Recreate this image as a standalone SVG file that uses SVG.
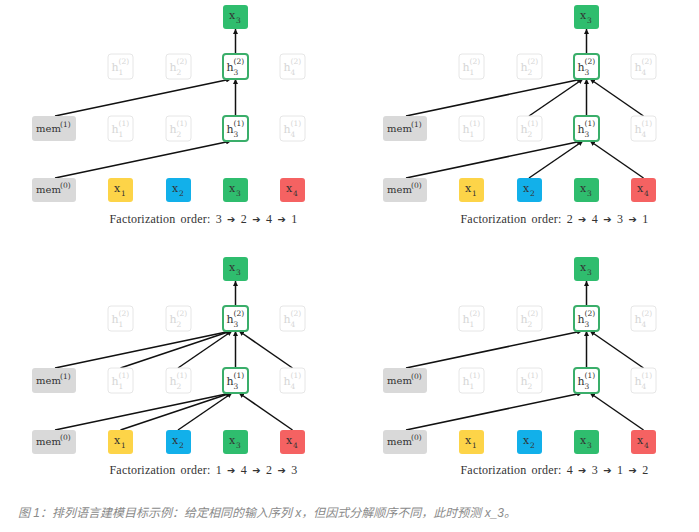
<svg xmlns="http://www.w3.org/2000/svg" width="699" height="532" viewBox="0 0 699 532">
<defs>
<marker id="ah" viewBox="0 0 6 6" refX="6" refY="3" markerWidth="5" markerHeight="5" markerUnits="userSpaceOnUse" orient="auto"><path d="M0,0 L6,3 L0,6 z" fill="#111"/></marker>
<style>
.lbl{font-family:"DejaVu Serif","Liberation Serif",serif;font-size:11px;fill:#333}
.m{font-size:10px}
.sc{font-size:7.5px}
.ft{fill:#d6d6d6}
.faded{fill:#fff;stroke:#e6e6e6;stroke-width:1}
.act{fill:#fff;stroke:#3aae6a;stroke-width:2}
.mem{fill:#d9d9d9}
.y{fill:#fdd448}.b{fill:#12b0ea}.g{fill:#2fbd6e}.r{fill:#f56262}
.cap{font-family:"Liberation Serif","Times New Roman",serif;font-size:12px;fill:#333;word-spacing:2px;letter-spacing:0.2px}
.ar{font-family:"DejaVu Sans",sans-serif;font-size:10px}
.e{stroke:#111;stroke-width:1.5;fill:none;marker-end:url(#ah)}
.fig{font-family:"Liberation Sans","Noto Sans CJK SC",sans-serif;font-size:12px;font-style:italic;fill:#8a8a8a}
</style>
</defs>
<rect width="699" height="532" fill="#fff"/>

<!-- Panel A -->
<g id="panelA">
<g id="a-edges">
<line class="e" x1="55" y1="116" x2="231" y2="79"/>
<line class="e" x1="235.5" y1="116" x2="235.5" y2="79"/>
<line class="e" x1="235.5" y1="54" x2="235.5" y2="29"/>
<line class="e" x1="55" y1="178" x2="231" y2="141"/>
</g>
<g id="a-out"><rect class="g" x="223" y="5" width="25" height="24" rx="3"/><text class="lbl" x="229" y="19">x<tspan class="sc" x="236" y="23">3</tspan></text></g>
<g id="a-h2-1"><rect class="faded" x="108" y="54" width="25" height="25" rx="3"/><text class="lbl ft" x="111.5" y="71">h<tspan class="sc" x="118.5" y="64">(2)</tspan><tspan class="sc" x="118.5" y="75">1</tspan></text></g>
<g id="a-h2-2"><rect class="faded" x="166" y="54" width="25" height="25" rx="3"/><text class="lbl ft" x="169.5" y="71">h<tspan class="sc" x="176.5" y="64">(2)</tspan><tspan class="sc" x="176.5" y="75">2</tspan></text></g>
<g id="a-h2-3"><rect class="act" x="223" y="54" width="25" height="25" rx="3"/><text class="lbl" x="226.5" y="71">h<tspan class="sc" x="233.5" y="64">(2)</tspan><tspan class="sc" x="233.5" y="75">3</tspan></text></g>
<g id="a-h2-4"><rect class="faded" x="280" y="54" width="25" height="25" rx="3"/><text class="lbl ft" x="283.5" y="71">h<tspan class="sc" x="290.5" y="64">(2)</tspan><tspan class="sc" x="290.5" y="75">4</tspan></text></g>
<g id="a-mem1"><rect class="mem" x="32" y="116" width="44" height="25" rx="3"/><text class="lbl m" x="36" y="132">mem<tspan class="sc" x="60" y="127">(1)</tspan></text></g>
<g id="a-h1-1"><rect class="faded" x="108" y="116" width="25" height="25" rx="3"/><text class="lbl ft" x="111.5" y="133">h<tspan class="sc" x="118.5" y="126">(1)</tspan><tspan class="sc" x="118.5" y="137">1</tspan></text></g>
<g id="a-h1-2"><rect class="faded" x="166" y="116" width="25" height="25" rx="3"/><text class="lbl ft" x="169.5" y="133">h<tspan class="sc" x="176.5" y="126">(1)</tspan><tspan class="sc" x="176.5" y="137">2</tspan></text></g>
<g id="a-h1-3"><rect class="act" x="223" y="116" width="25" height="25" rx="3"/><text class="lbl" x="226.5" y="133">h<tspan class="sc" x="233.5" y="126">(1)</tspan><tspan class="sc" x="233.5" y="137">3</tspan></text></g>
<g id="a-h1-4"><rect class="faded" x="280" y="116" width="25" height="25" rx="3"/><text class="lbl ft" x="283.5" y="133">h<tspan class="sc" x="290.5" y="126">(1)</tspan><tspan class="sc" x="290.5" y="137">4</tspan></text></g>
<g id="a-mem0"><rect class="mem" x="32" y="178" width="44" height="24" rx="3"/><text class="lbl m" x="36" y="193">mem<tspan class="sc" x="60" y="188">(0)</tspan></text></g>
<g id="a-x1"><rect class="y" x="108" y="178" width="25" height="24" rx="3"/><text class="lbl" x="114" y="192">x<tspan class="sc" x="121" y="196">1</tspan></text></g>
<g id="a-x2"><rect class="b" x="166" y="178" width="25" height="24" rx="3"/><text class="lbl" x="172" y="192">x<tspan class="sc" x="179" y="196">2</tspan></text></g>
<g id="a-x3"><rect class="g" x="223" y="178" width="25" height="24" rx="3"/><text class="lbl" x="229" y="192">x<tspan class="sc" x="236" y="196">3</tspan></text></g>
<g id="a-x4"><rect class="r" x="280" y="178" width="25" height="24" rx="3"/><text class="lbl" x="286" y="192">x<tspan class="sc" x="293" y="196">4</tspan></text></g>
<text class="cap" x="203.5" y="223" text-anchor="middle">Factorization order: 3 <tspan class="ar">➔</tspan> 2 <tspan class="ar">➔</tspan> 4 <tspan class="ar">➔</tspan> 1</text>
</g>

<!-- Panel B -->
<g id="panelB" transform="translate(351,0)">
<g id="b-edges">
<line class="e" x1="55" y1="116" x2="231" y2="79"/>
<line class="e" x1="178" y1="116" x2="232" y2="79"/>
<line class="e" x1="235.5" y1="116" x2="235.5" y2="79"/>
<line class="e" x1="292.5" y1="116" x2="239" y2="79"/>
<line class="e" x1="235.5" y1="54" x2="235.5" y2="29"/>
<line class="e" x1="55" y1="178" x2="231" y2="141"/>
<line class="e" x1="178" y1="178" x2="232" y2="141"/>
<line class="e" x1="292.5" y1="178" x2="239" y2="141"/>
</g>
<g id="b-out"><rect class="g" x="223" y="5" width="25" height="24" rx="3"/><text class="lbl" x="229" y="19">x<tspan class="sc" x="236" y="23">3</tspan></text></g>
<g id="b-h2-1"><rect class="faded" x="108" y="54" width="25" height="25" rx="3"/><text class="lbl ft" x="111.5" y="71">h<tspan class="sc" x="118.5" y="64">(2)</tspan><tspan class="sc" x="118.5" y="75">1</tspan></text></g>
<g id="b-h2-2"><rect class="faded" x="166" y="54" width="25" height="25" rx="3"/><text class="lbl ft" x="169.5" y="71">h<tspan class="sc" x="176.5" y="64">(2)</tspan><tspan class="sc" x="176.5" y="75">2</tspan></text></g>
<g id="b-h2-3"><rect class="act" x="223" y="54" width="25" height="25" rx="3"/><text class="lbl" x="226.5" y="71">h<tspan class="sc" x="233.5" y="64">(2)</tspan><tspan class="sc" x="233.5" y="75">3</tspan></text></g>
<g id="b-h2-4"><rect class="faded" x="280" y="54" width="25" height="25" rx="3"/><text class="lbl ft" x="283.5" y="71">h<tspan class="sc" x="290.5" y="64">(2)</tspan><tspan class="sc" x="290.5" y="75">4</tspan></text></g>
<g id="b-mem1"><rect class="mem" x="32" y="116" width="44" height="25" rx="3"/><text class="lbl m" x="36" y="132">mem<tspan class="sc" x="60" y="127">(1)</tspan></text></g>
<g id="b-h1-1"><rect class="faded" x="108" y="116" width="25" height="25" rx="3"/><text class="lbl ft" x="111.5" y="133">h<tspan class="sc" x="118.5" y="126">(1)</tspan><tspan class="sc" x="118.5" y="137">1</tspan></text></g>
<g id="b-h1-2"><rect class="faded" x="166" y="116" width="25" height="25" rx="3"/><text class="lbl ft" x="169.5" y="133">h<tspan class="sc" x="176.5" y="126">(1)</tspan><tspan class="sc" x="176.5" y="137">2</tspan></text></g>
<g id="b-h1-3"><rect class="act" x="223" y="116" width="25" height="25" rx="3"/><text class="lbl" x="226.5" y="133">h<tspan class="sc" x="233.5" y="126">(1)</tspan><tspan class="sc" x="233.5" y="137">3</tspan></text></g>
<g id="b-h1-4"><rect class="faded" x="280" y="116" width="25" height="25" rx="3"/><text class="lbl ft" x="283.5" y="133">h<tspan class="sc" x="290.5" y="126">(1)</tspan><tspan class="sc" x="290.5" y="137">4</tspan></text></g>
<g id="b-mem0"><rect class="mem" x="32" y="178" width="44" height="24" rx="3"/><text class="lbl m" x="36" y="193">mem<tspan class="sc" x="60" y="188">(0)</tspan></text></g>
<g id="b-x1"><rect class="y" x="108" y="178" width="25" height="24" rx="3"/><text class="lbl" x="114" y="192">x<tspan class="sc" x="121" y="196">1</tspan></text></g>
<g id="b-x2"><rect class="b" x="166" y="178" width="25" height="24" rx="3"/><text class="lbl" x="172" y="192">x<tspan class="sc" x="179" y="196">2</tspan></text></g>
<g id="b-x3"><rect class="g" x="223" y="178" width="25" height="24" rx="3"/><text class="lbl" x="229" y="192">x<tspan class="sc" x="236" y="196">3</tspan></text></g>
<g id="b-x4"><rect class="r" x="280" y="178" width="25" height="24" rx="3"/><text class="lbl" x="286" y="192">x<tspan class="sc" x="293" y="196">4</tspan></text></g>
<text class="cap" x="203.5" y="223" text-anchor="middle">Factorization order: 2 <tspan class="ar">➔</tspan> 4 <tspan class="ar">➔</tspan> 3 <tspan class="ar">➔</tspan> 1</text>
</g>

<!-- Panel C -->
<g id="panelC" transform="translate(0,252)">
<g id="c-edges">
<line class="e" x1="55" y1="116" x2="231" y2="79"/>
<line class="e" x1="120.5" y1="116" x2="231" y2="79"/>
<line class="e" x1="178" y1="116" x2="232" y2="79"/>
<line class="e" x1="235.5" y1="116" x2="235.5" y2="79"/>
<line class="e" x1="292.5" y1="116" x2="239" y2="79"/>
<line class="e" x1="235.5" y1="54" x2="235.5" y2="29"/>
<line class="e" x1="55" y1="178" x2="231" y2="141"/>
<line class="e" x1="120.5" y1="178" x2="231" y2="141"/>
<line class="e" x1="178" y1="178" x2="232" y2="141"/>
<line class="e" x1="292.5" y1="178" x2="239" y2="141"/>
</g>
<g id="c-out"><rect class="g" x="223" y="5" width="25" height="24" rx="3"/><text class="lbl" x="229" y="19">x<tspan class="sc" x="236" y="23">3</tspan></text></g>
<g id="c-h2-1"><rect class="faded" x="108" y="54" width="25" height="25" rx="3"/><text class="lbl ft" x="111.5" y="71">h<tspan class="sc" x="118.5" y="64">(2)</tspan><tspan class="sc" x="118.5" y="75">1</tspan></text></g>
<g id="c-h2-2"><rect class="faded" x="166" y="54" width="25" height="25" rx="3"/><text class="lbl ft" x="169.5" y="71">h<tspan class="sc" x="176.5" y="64">(2)</tspan><tspan class="sc" x="176.5" y="75">2</tspan></text></g>
<g id="c-h2-3"><rect class="act" x="223" y="54" width="25" height="25" rx="3"/><text class="lbl" x="226.5" y="71">h<tspan class="sc" x="233.5" y="64">(2)</tspan><tspan class="sc" x="233.5" y="75">3</tspan></text></g>
<g id="c-h2-4"><rect class="faded" x="280" y="54" width="25" height="25" rx="3"/><text class="lbl ft" x="283.5" y="71">h<tspan class="sc" x="290.5" y="64">(2)</tspan><tspan class="sc" x="290.5" y="75">4</tspan></text></g>
<g id="c-mem1"><rect class="mem" x="32" y="116" width="44" height="25" rx="3"/><text class="lbl m" x="36" y="132">mem<tspan class="sc" x="60" y="127">(1)</tspan></text></g>
<g id="c-h1-1"><rect class="faded" x="108" y="116" width="25" height="25" rx="3"/><text class="lbl ft" x="111.5" y="133">h<tspan class="sc" x="118.5" y="126">(1)</tspan><tspan class="sc" x="118.5" y="137">1</tspan></text></g>
<g id="c-h1-2"><rect class="faded" x="166" y="116" width="25" height="25" rx="3"/><text class="lbl ft" x="169.5" y="133">h<tspan class="sc" x="176.5" y="126">(1)</tspan><tspan class="sc" x="176.5" y="137">2</tspan></text></g>
<g id="c-h1-3"><rect class="act" x="223" y="116" width="25" height="25" rx="3"/><text class="lbl" x="226.5" y="133">h<tspan class="sc" x="233.5" y="126">(1)</tspan><tspan class="sc" x="233.5" y="137">3</tspan></text></g>
<g id="c-h1-4"><rect class="faded" x="280" y="116" width="25" height="25" rx="3"/><text class="lbl ft" x="283.5" y="133">h<tspan class="sc" x="290.5" y="126">(1)</tspan><tspan class="sc" x="290.5" y="137">4</tspan></text></g>
<g id="c-mem0"><rect class="mem" x="32" y="178" width="44" height="24" rx="3"/><text class="lbl m" x="36" y="193">mem<tspan class="sc" x="60" y="188">(0)</tspan></text></g>
<g id="c-x1"><rect class="y" x="108" y="178" width="25" height="24" rx="3"/><text class="lbl" x="114" y="192">x<tspan class="sc" x="121" y="196">1</tspan></text></g>
<g id="c-x2"><rect class="b" x="166" y="178" width="25" height="24" rx="3"/><text class="lbl" x="172" y="192">x<tspan class="sc" x="179" y="196">2</tspan></text></g>
<g id="c-x3"><rect class="g" x="223" y="178" width="25" height="24" rx="3"/><text class="lbl" x="229" y="192">x<tspan class="sc" x="236" y="196">3</tspan></text></g>
<g id="c-x4"><rect class="r" x="280" y="178" width="25" height="24" rx="3"/><text class="lbl" x="286" y="192">x<tspan class="sc" x="293" y="196">4</tspan></text></g>
<text class="cap" x="203.5" y="222" text-anchor="middle">Factorization order: 1 <tspan class="ar">➔</tspan> 4 <tspan class="ar">➔</tspan> 2 <tspan class="ar">➔</tspan> 3</text>
</g>

<!-- Panel D -->
<g id="panelD" transform="translate(351,252)">
<g id="d-edges">
<line class="e" x1="55" y1="116" x2="231" y2="79"/>
<line class="e" x1="235.5" y1="116" x2="235.5" y2="79"/>
<line class="e" x1="292.5" y1="116" x2="239" y2="79"/>
<line class="e" x1="235.5" y1="54" x2="235.5" y2="29"/>
<line class="e" x1="55" y1="178" x2="231" y2="141"/>
<line class="e" x1="292.5" y1="178" x2="239" y2="141"/>
</g>
<g id="d-out"><rect class="g" x="223" y="5" width="25" height="24" rx="3"/><text class="lbl" x="229" y="19">x<tspan class="sc" x="236" y="23">3</tspan></text></g>
<g id="d-h2-1"><rect class="faded" x="108" y="54" width="25" height="25" rx="3"/><text class="lbl ft" x="111.5" y="71">h<tspan class="sc" x="118.5" y="64">(2)</tspan><tspan class="sc" x="118.5" y="75">1</tspan></text></g>
<g id="d-h2-2"><rect class="faded" x="166" y="54" width="25" height="25" rx="3"/><text class="lbl ft" x="169.5" y="71">h<tspan class="sc" x="176.5" y="64">(2)</tspan><tspan class="sc" x="176.5" y="75">2</tspan></text></g>
<g id="d-h2-3"><rect class="act" x="223" y="54" width="25" height="25" rx="3"/><text class="lbl" x="226.5" y="71">h<tspan class="sc" x="233.5" y="64">(2)</tspan><tspan class="sc" x="233.5" y="75">3</tspan></text></g>
<g id="d-h2-4"><rect class="faded" x="280" y="54" width="25" height="25" rx="3"/><text class="lbl ft" x="283.5" y="71">h<tspan class="sc" x="290.5" y="64">(2)</tspan><tspan class="sc" x="290.5" y="75">4</tspan></text></g>
<g id="d-mem1"><rect class="mem" x="32" y="116" width="44" height="25" rx="3"/><text class="lbl m" x="36" y="132">mem<tspan class="sc" x="60" y="127">(0)</tspan></text></g>
<g id="d-h1-1"><rect class="faded" x="108" y="116" width="25" height="25" rx="3"/><text class="lbl ft" x="111.5" y="133">h<tspan class="sc" x="118.5" y="126">(1)</tspan><tspan class="sc" x="118.5" y="137">1</tspan></text></g>
<g id="d-h1-2"><rect class="faded" x="166" y="116" width="25" height="25" rx="3"/><text class="lbl ft" x="169.5" y="133">h<tspan class="sc" x="176.5" y="126">(1)</tspan><tspan class="sc" x="176.5" y="137">2</tspan></text></g>
<g id="d-h1-3"><rect class="act" x="223" y="116" width="25" height="25" rx="3"/><text class="lbl" x="226.5" y="133">h<tspan class="sc" x="233.5" y="126">(1)</tspan><tspan class="sc" x="233.5" y="137">3</tspan></text></g>
<g id="d-h1-4"><rect class="faded" x="280" y="116" width="25" height="25" rx="3"/><text class="lbl ft" x="283.5" y="133">h<tspan class="sc" x="290.5" y="126">(1)</tspan><tspan class="sc" x="290.5" y="137">4</tspan></text></g>
<g id="d-mem0"><rect class="mem" x="32" y="178" width="44" height="24" rx="3"/><text class="lbl m" x="36" y="193">mem<tspan class="sc" x="60" y="188">(0)</tspan></text></g>
<g id="d-x1"><rect class="y" x="108" y="178" width="25" height="24" rx="3"/><text class="lbl" x="114" y="192">x<tspan class="sc" x="121" y="196">1</tspan></text></g>
<g id="d-x2"><rect class="b" x="166" y="178" width="25" height="24" rx="3"/><text class="lbl" x="172" y="192">x<tspan class="sc" x="179" y="196">2</tspan></text></g>
<g id="d-x3"><rect class="g" x="223" y="178" width="25" height="24" rx="3"/><text class="lbl" x="229" y="192">x<tspan class="sc" x="236" y="196">3</tspan></text></g>
<g id="d-x4"><rect class="r" x="280" y="178" width="25" height="24" rx="3"/><text class="lbl" x="286" y="192">x<tspan class="sc" x="293" y="196">4</tspan></text></g>
<text class="cap" x="203.5" y="222" text-anchor="middle">Factorization order: 4 <tspan class="ar">➔</tspan> 3 <tspan class="ar">➔</tspan> 1 <tspan class="ar">➔</tspan> 2</text>
</g>

<text class="fig" x="18" y="517">图 1：排列语言建模目标示例：给定相同的输入序列 x，但因式分解顺序不同，此时预测 x_3。</text>
</svg>
